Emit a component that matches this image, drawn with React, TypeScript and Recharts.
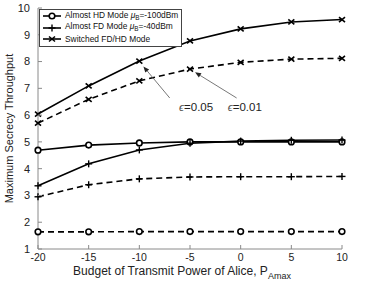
import React from 'react';
import { LineChart, Line, XAxis, YAxis, Legend, ReferenceLine, ReferenceDot } from 'recharts';

const powerBudget = [-20, -15, -10, -5, 0, 5, 10];
const xTicks = [-20, -15, -10, -5, 0, 5, 10];
const yTicks = [1, 2, 3, 4, 5, 6, 7, 8, 9, 10];

const hdEps005 = [4.69, 4.88, 4.96, 5.0, 5.0, 5.0, 5.0];
const hdEps001 = [1.64, 1.64, 1.65, 1.65, 1.65, 1.65, 1.65];
const fdEps005 = [3.36, 4.18, 4.7, 4.95, 5.03, 5.06, 5.07];
const fdEps001 = [2.95, 3.4, 3.62, 3.69, 3.7, 3.7, 3.71];
const swEps005 = [6.04, 7.09, 8.02, 8.77, 9.22, 9.48, 9.57];
const swEps001 = [5.7, 6.59, 7.28, 7.72, 7.97, 8.09, 8.12];

const legendNames = ['Almost HD Mode', 'Almost FD Mode', 'Switched FD/HD Mode'];
const legendMu = ['=-100dBm', '=-40dBm', ''];
const legendMarkers = ['circle', 'plus', 'cross'];

const annotations = [
  { text: 'ϵ=0.05', tx: -4.4, ty: 6.3, tail: { x: -7.0, y: 6.64 }, head: { x: -9.6, y: 7.82 } },
  { text: 'ϵ=0.01', tx: 0.4, ty: 6.3, tail: { x: -0.4, y: 6.64 }, head: { x: -4.5, y: 7.6 } },
];

const data = powerBudget.map((p, i) => ({
  p,
  hd1: hdEps005[i],
  hd2: hdEps001[i],
  fd1: fdEps005[i],
  fd2: fdEps001[i],
  sw1: swEps005[i],
  sw2: swEps001[i],
}));

const FONT = '"Liberation Sans", Arial, Helvetica, sans-serif';
const AXIS_COLOR = '#8a8a8a';
const X_MARGIN = 5;
const Y_MARGIN = 8;
const TICK_LEN = 4;

const Marker = ({ kind, cx, cy }: { kind: string; cx: number; cy: number }) => {
  if (cx == null || cy == null) return null;
  if (kind === 'circle') {
    return <circle cx={cx} cy={cy} r={2.8} fill="#fff" stroke="#000" strokeWidth={1.6} />;
  }
  if (kind === 'plus') {
    return (
      <g stroke="#000" strokeWidth={1.4}>
        <line x1={cx - 3.5} y1={cy} x2={cx + 3.5} y2={cy} />
        <line x1={cx} y1={cy - 3.5} x2={cx} y2={cy + 3.5} />
      </g>
    );
  }
  return (
    <g stroke="#000" strokeWidth={1.6}>
      <line x1={cx - 3} y1={cy - 2.5} x2={cx + 3} y2={cy + 2.5} />
      <line x1={cx - 3} y1={cy + 2.5} x2={cx + 3} y2={cy - 2.5} />
    </g>
  );
};

const makeDot = (kind: string) => (props: any) => (
  <Marker key={`${kind}-${props.index}`} kind={kind} cx={props.cx} cy={props.cy} />
);

const XTick = (props: any) => {
  const { x, y, payload } = props;
  const base = y - X_MARGIN;
  return (
    <g>
      <line x1={x} y1={base} x2={x} y2={base - TICK_LEN} stroke={AXIS_COLOR} strokeWidth={1} />
      <text x={x} y={y} dy="0.71em" textAnchor="middle" fontSize={10.5} fill="#222" fontFamily={FONT}>
        {payload.value}
      </text>
    </g>
  );
};

const YTick = (props: any) => {
  const { x, y, payload } = props;
  const base = x + Y_MARGIN;
  return (
    <g>
      <line x1={base} y1={y} x2={base + TICK_LEN} y2={y} stroke={AXIS_COLOR} strokeWidth={1} />
      <text x={x} y={y} dy="0.355em" textAnchor="end" fontSize={11} fill="#222" fontFamily={FONT}>
        {payload.value}
      </text>
    </g>
  );
};

const ArrowShape = (props: any) => {
  const { x1, y1, x2, y2 } = props;
  if (x1 == null) return null;
  const ang = Math.atan2(y2 - y1, x2 - x1);
  const L = 6;
  const W = 2.5;
  const bx = x2 - L * Math.cos(ang);
  const by = y2 - L * Math.sin(ang);
  const px = -Math.sin(ang) * W;
  const py = Math.cos(ang) * W;
  return (
    <g>
      <line x1={x1} y1={y1} x2={bx} y2={by} stroke="#555" strokeWidth={0.8} />
      <polygon points={`${x2},${y2} ${bx + px},${by + py} ${bx - px},${by - py}`} fill="#222" />
    </g>
  );
};

const LegendContent = () => (
  <div
    style={{
      border: '1px solid #444',
      background: '#fff',
      padding: '0.5px 3px 0.5px 2px',
      fontFamily: FONT,
      fontSize: 8.4,
      color: '#111',
      lineHeight: '11.5px',
      textAlign: 'left',
    }}
  >
    {legendNames.map((name, i) => (
      <div key={name} style={{ display: 'flex', alignItems: 'center', whiteSpace: 'nowrap', height: 11.5 }}>
        <svg width={20} height={10} style={{ marginRight: 3 }}>
          <line x1={1} y1={5} x2={19} y2={5} stroke="#000" strokeWidth={1.6} />
          <Marker kind={legendMarkers[i]} cx={10} cy={5} />
        </svg>
        <span>
          {name}
          {legendMu[i] ? (
            <>
              {' '}
              <i>μ</i>
              <sub style={{ fontSize: 6.3, verticalAlign: '-2px' }}>B</sub>
              {legendMu[i]}
            </>
          ) : null}
        </span>
      </div>
    ))}
  </div>
);

const lineProps = { stroke: '#000', isAnimationActive: false, activeDot: false as const };

export default function App() {
  return (
    <div style={{ position: 'absolute', left: 0, top: 0, background: '#fff' }}>
      <LineChart width={387} height={289} data={data} margin={{ top: 8, right: 45, left: 8, bottom: 10 }}>
        <XAxis
          dataKey="p"
          type="number"
          domain={[-20, 10]}
          ticks={xTicks}
          tickSize={0}
          tickMargin={X_MARGIN}
          tick={<XTick />}
          tickLine={false}
          axisLine={{ stroke: AXIS_COLOR }}
          height={30}
          interval={0}
          label={{
            value: 'Budget of Transmit Power of Alice, P',
            content: (p: any) => {
              const vb = p.viewBox;
              const cx = vb.x + vb.width / 2;
              return (
                <text x={cx - 8} y={vb.y + 26} textAnchor="middle" fontSize={12} fill="#222" fontFamily={FONT}>
                  Budget of Transmit Power of Alice, P
                  <tspan fontSize={9} dy={4}>Amax</tspan>
                </text>
              );
            },
          }}
        />
        <XAxis
          xAxisId="top"
          dataKey="p"
          type="number"
          orientation="top"
          domain={[-20, 10]}
          ticks={xTicks}
          mirror
          height={0}
          tick={false}
          tickSize={TICK_LEN}
          tickLine={{ stroke: AXIS_COLOR }}
          axisLine={{ stroke: AXIS_COLOR }}
        />
        <YAxis
          type="number"
          domain={[1, 10]}
          ticks={yTicks}
          tickSize={0}
          tickMargin={Y_MARGIN}
          tick={<YTick />}
          tickLine={false}
          axisLine={{ stroke: AXIS_COLOR }}
          width={30}
          interval={0}
          label={{
            value: 'Maximum Secrecy Throughput',
            content: (p: any) => {
              const vb = p.viewBox;
              const cy = vb.y + vb.height / 2;
              return (
                <text
                  x={13}
                  y={cy}
                  transform={`rotate(-90 13 ${cy})`}
                  textAnchor="middle"
                  fontSize={11}
                  fill="#222"
                  fontFamily={FONT}
                >
                  Maximum Secrecy Throughput
                </text>
              );
            },
          }}
        />
        <YAxis
          yAxisId="right"
          type="number"
          orientation="right"
          domain={[1, 10]}
          ticks={yTicks}
          mirror
          width={0}
          tick={false}
          tickSize={TICK_LEN}
          tickLine={{ stroke: AXIS_COLOR }}
          axisLine={{ stroke: AXIS_COLOR }}
        />
        <Line dataKey="hd1" {...lineProps} strokeWidth={1.6} dot={makeDot('circle')} />
        <Line dataKey="hd2" {...lineProps} strokeWidth={1.6} strokeDasharray="6 4" dot={makeDot('circle')} />
        <Line dataKey="fd1" {...lineProps} strokeWidth={1.6} dot={makeDot('plus')} />
        <Line dataKey="fd2" {...lineProps} strokeWidth={1.6} strokeDasharray="6 4" dot={makeDot('plus')} />
        <Line dataKey="sw1" {...lineProps} strokeWidth={1.6} dot={makeDot('cross')} />
        <Line dataKey="sw2" {...lineProps} strokeWidth={1.6} strokeDasharray="6 4" dot={makeDot('cross')} />
        {annotations.map((a) => (
          <ReferenceLine
            key={`arr-${a.text}`}
            segment={[a.tail, a.head]}
            shape={ArrowShape}
            ifOverflow="visible"
          />
        ))}
        {annotations.map((a) => (
          <ReferenceDot
            key={`lbl-${a.text}`}
            x={a.tx}
            y={a.ty}
            r={0}
            fill="none"
            stroke="none"
            ifOverflow="visible"
            label={{
              content: (p: any) => {
                const vb = p.viewBox || {};
                const cx = vb.x + (vb.width || 0) / 2;
                const cy = vb.y + (vb.height || 0) / 2;
                return (
                  <text x={cx} y={cy} dy="0.35em" textAnchor="middle" fontSize={11.5} fill="#222" fontFamily={FONT}>
                    <tspan fill="#555" fontStyle="italic">ϵ</tspan>=
                    {a.text.slice(2)}
                  </text>
                );
              },
            }}
          />
        ))}
        <Legend
          layout="horizontal"
          verticalAlign="middle"
          align="center"
          content={<LegendContent />}
          wrapperStyle={{ position: 'absolute', left: 39, top: 9, width: 'auto', bottom: 'auto' }}
        />
      </LineChart>
    </div>
  );
}
